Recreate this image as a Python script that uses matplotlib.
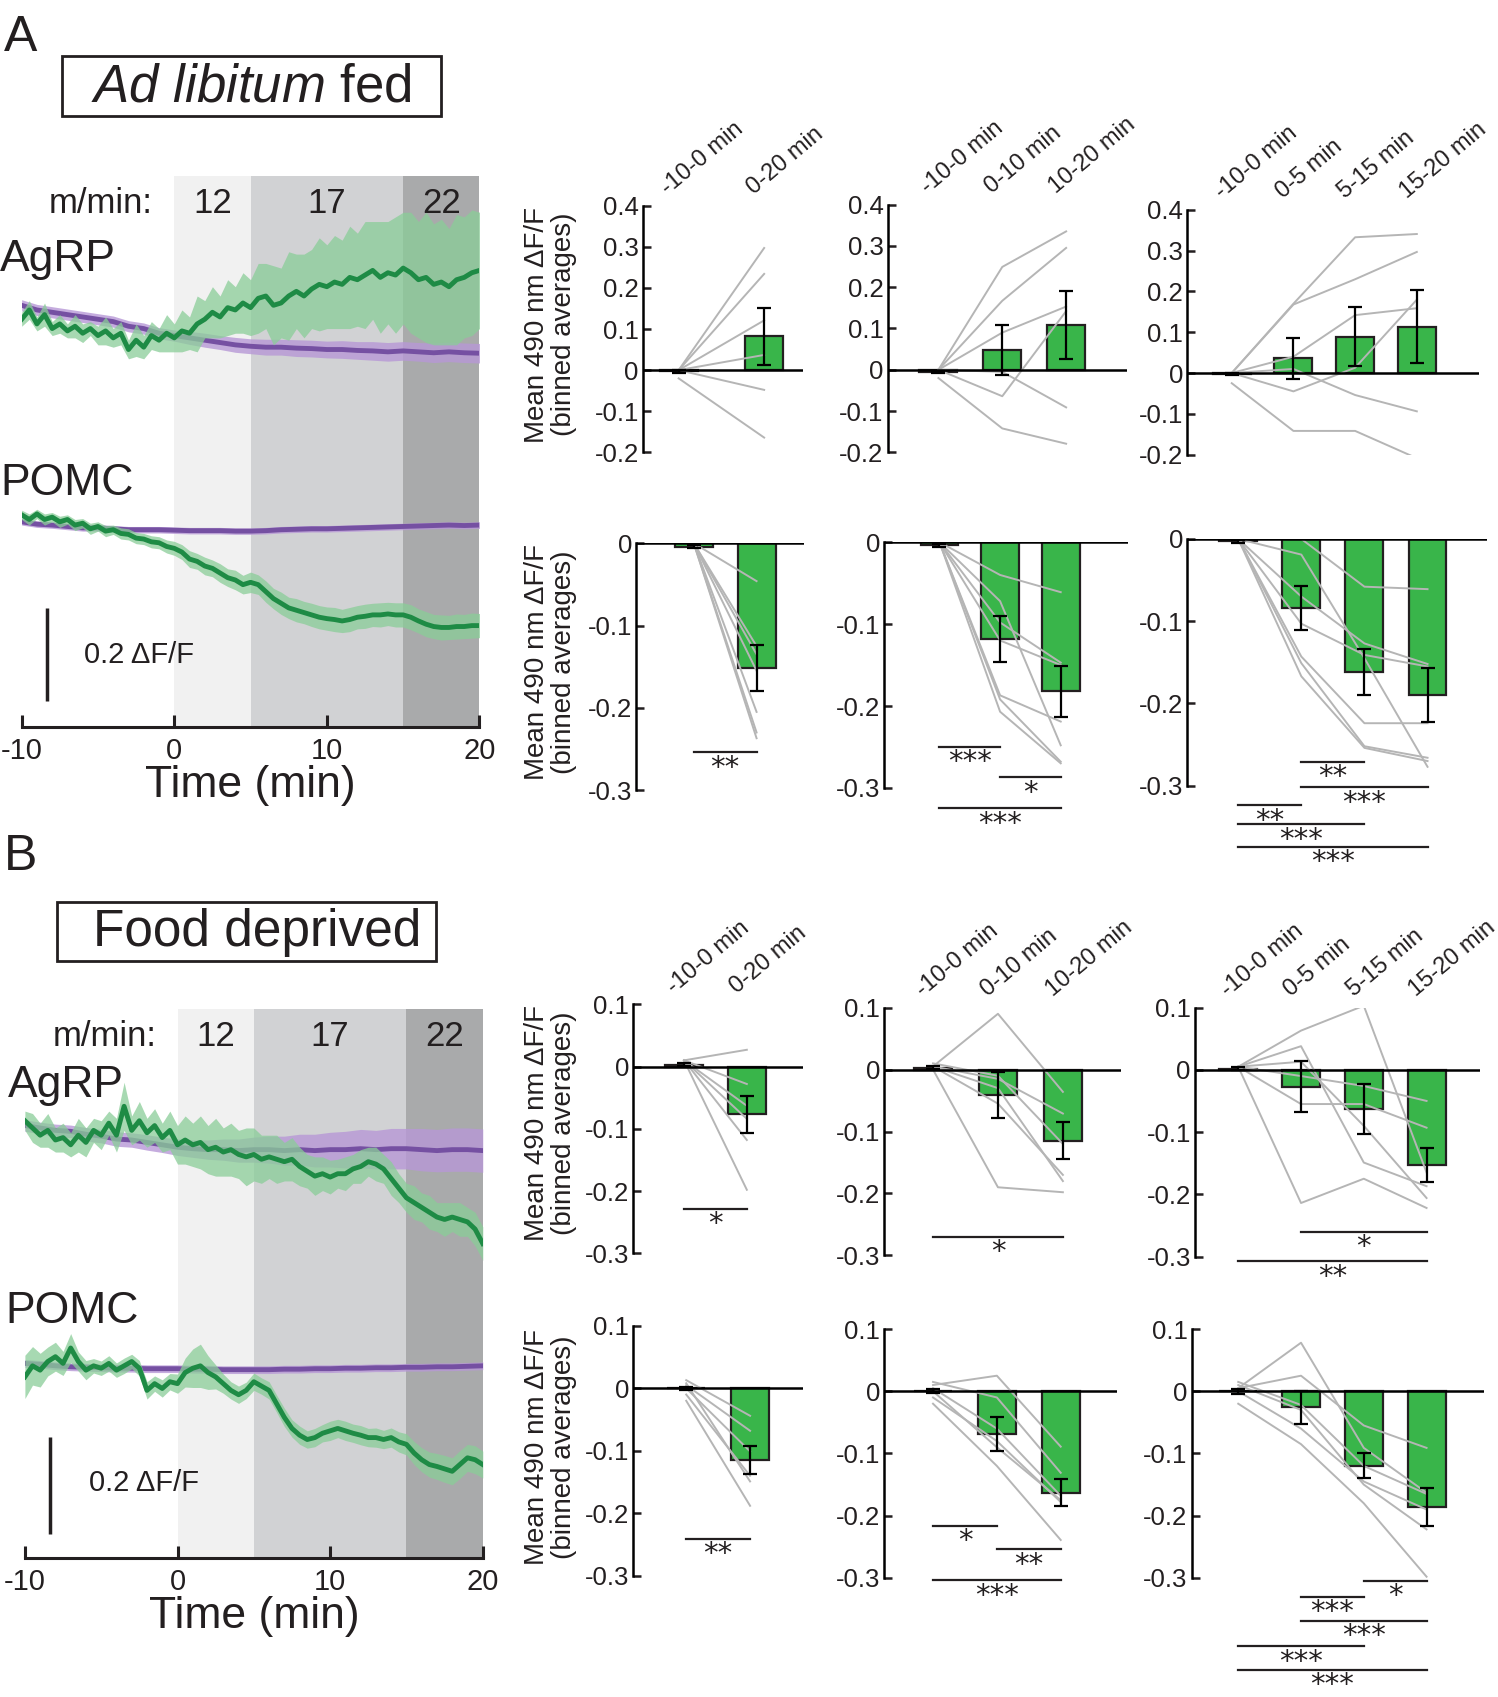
import numpy as np
import matplotlib
matplotlib.use('Agg')
import matplotlib.pyplot as plt
from matplotlib.patches import Rectangle

plt.rcParams['font.family'] = ['Liberation Sans', 'DejaVu Sans']
plt.rcParams['mathtext.fontset'] = 'custom'
plt.rcParams['mathtext.rm'] = 'Liberation Sans'
plt.rcParams['mathtext.it'] = 'Liberation Sans:italic'

# ---------------- photometry traces (dF/F, relative to start) ----------------
t_fine = np.arange(-10, 20.01, 0.5)     # green 490 nm traces
t_coarse = np.arange(-10, 20.01, 1.0)   # purple control traces
epoch_edges = [0, 5, 15, 20]
speeds = ['12', '17', '22']
time_ticks = [-10, 0, 10, 20]

# A: ad libitum fed
a_agrp_green = [0.0, 0.02, -0.01, 0.01, -0.02, -0.01, -0.025, -0.015, -0.03, -0.02,
                -0.035, -0.025, -0.04, -0.03, -0.065, -0.045, -0.06, -0.035, -0.045, -0.03,
                -0.04, -0.025, -0.03, -0.01, 0.0, 0.015, 0.005, 0.025, 0.02, 0.035,
                0.025, 0.045, 0.05, 0.03, 0.035, 0.05, 0.06, 0.05, 0.065, 0.075,
                0.07, 0.08, 0.075, 0.09, 0.085, 0.095, 0.105, 0.09, 0.1, 0.095,
                0.11, 0.1, 0.085, 0.09, 0.075, 0.08, 0.07, 0.085, 0.09, 0.1,
                0.105]
a_agrp_green_sem = [0.015, 0.02, 0.015, 0.025, 0.015, 0.02, 0.015, 0.025, 0.02, 0.015,
                    0.02, 0.03, 0.02, 0.025, 0.02, 0.035, 0.025, 0.03, 0.025, 0.04,
                    0.03, 0.045, 0.035, 0.06, 0.04, 0.055, 0.045, 0.06, 0.05, 0.065,
                    0.06, 0.075, 0.07, 0.085, 0.075, 0.095, 0.08, 0.09, 0.085, 0.1,
                    0.09, 0.1, 0.095, 0.11, 0.1, 0.115, 0.105, 0.12, 0.11, 0.125,
                    0.12, 0.13, 0.125, 0.14, 0.13, 0.135, 0.125, 0.14, 0.13, 0.135,
                    0.125]
a_agrp_purple = [0.03, 0.02, 0.015, 0.01, 0.005, 0.0, -0.005, -0.015, -0.02, -0.03,
                 -0.035, -0.04, -0.045, -0.05, -0.055, -0.058, -0.06, -0.06, -0.062, -0.063,
                 -0.065, -0.065, -0.067, -0.068, -0.07, -0.068, -0.07, -0.072, -0.07, -0.072,
                 -0.073]
a_agrp_purple_sem = [0.012] * 11 + [0.014, 0.015, 0.015, 0.016, 0.016, 0.017, 0.017, 0.018, 0.018, 0.018,
                                    0.019, 0.019, 0.02, 0.02, 0.02, 0.02, 0.021, 0.021, 0.021, 0.021]
a_pomc_green = [0.01, 0.0, 0.012, 0.0, 0.005, -0.005, 0.0, -0.012, -0.008, -0.02,
                -0.015, -0.025, -0.022, -0.03, -0.032, -0.04, -0.042, -0.048, -0.05, -0.058,
                -0.062, -0.07, -0.085, -0.09, -0.1, -0.105, -0.115, -0.125, -0.13, -0.14,
                -0.135, -0.14, -0.155, -0.17, -0.18, -0.19, -0.195, -0.2, -0.205, -0.21,
                -0.213, -0.215, -0.218, -0.215, -0.21, -0.208, -0.205, -0.205, -0.203, -0.205,
                -0.205, -0.21, -0.218, -0.225, -0.23, -0.232, -0.232, -0.23, -0.23, -0.228,
                -0.228]
a_pomc_green_sem = [0.01, 0.012, 0.01, 0.012, 0.01, 0.012, 0.01, 0.012, 0.01, 0.012,
                    0.01, 0.012, 0.01, 0.012, 0.012, 0.012, 0.012, 0.013, 0.013, 0.014,
                    0.015, 0.016, 0.018, 0.017, 0.019, 0.018, 0.02, 0.019, 0.021, 0.02,
                    0.022, 0.021, 0.023, 0.022, 0.024, 0.023, 0.025, 0.024, 0.025, 0.025,
                    0.025, 0.026, 0.025, 0.026, 0.025, 0.026, 0.025, 0.026, 0.025, 0.026,
                    0.026, 0.027, 0.026, 0.027, 0.026, 0.027, 0.026, 0.027, 0.026, 0.027,
                    0.026]
a_pomc_purple = [-0.005, -0.01, -0.012, -0.015, -0.018, -0.018, -0.02, -0.022, -0.022, -0.022,
                 -0.023, -0.024, -0.024, -0.024, -0.025, -0.025, -0.024, -0.022, -0.021, -0.02,
                 -0.02, -0.019, -0.018, -0.017, -0.016, -0.015, -0.014, -0.013, -0.012, -0.013,
                 -0.012]
a_pomc_purple_sem = [0.007] * 31

# B: food deprived
b_agrp_green = [0.01, -0.005, -0.02, -0.01, -0.03, -0.025, -0.04, -0.02, -0.035, -0.01,
                -0.02, 0.005, -0.02, 0.04, -0.01, 0.01, -0.015, 0.0, -0.025, -0.01,
                -0.04, -0.03, -0.04, -0.035, -0.05, -0.045, -0.055, -0.05, -0.06, -0.065,
                -0.06, -0.07, -0.065, -0.07, -0.075, -0.07, -0.085, -0.095, -0.105, -0.1,
                -0.107, -0.1, -0.1, -0.09, -0.085, -0.075, -0.08, -0.09, -0.11, -0.13,
                -0.15, -0.16, -0.17, -0.18, -0.19, -0.195, -0.19, -0.195, -0.2, -0.215,
                -0.245]
b_agrp_green_sem = [0.02, 0.03, 0.025, 0.035, 0.025, 0.03, 0.025, 0.035, 0.03, 0.025,
                    0.03, 0.025, 0.035, 0.05, 0.03, 0.04, 0.03, 0.035, 0.03, 0.04,
                    0.04, 0.05, 0.045, 0.055, 0.05, 0.06, 0.05, 0.055, 0.05, 0.06,
                    0.055, 0.05, 0.045, 0.05, 0.04, 0.045, 0.04, 0.035, 0.04, 0.035,
                    0.035, 0.03, 0.035, 0.03, 0.035, 0.03, 0.035, 0.03, 0.035, 0.03,
                    0.03, 0.035, 0.03, 0.035, 0.03, 0.035, 0.03, 0.035, 0.03, 0.035,
                    0.035]
b_agrp_purple = [0.0, -0.005, -0.01, -0.012, -0.018, -0.022, -0.028, -0.03, -0.035, -0.04,
                 -0.045, -0.048, -0.05, -0.05, -0.052, -0.05, -0.05, -0.052, -0.05, -0.052,
                 -0.05, -0.05, -0.048, -0.05, -0.048, -0.048, -0.05, -0.052, -0.05, -0.05,
                 -0.052]
b_agrp_purple_sem = [0.012, 0.012, 0.013, 0.013, 0.014, 0.014, 0.015, 0.015, 0.016, 0.016,
                     0.017, 0.018, 0.02, 0.022, 0.024, 0.026, 0.028, 0.03, 0.032, 0.034,
                     0.036, 0.038, 0.04, 0.04, 0.042, 0.042, 0.044, 0.044, 0.045, 0.045,
                     0.045]
b_pomc_green = [-0.023, 0.0, -0.009, 0.009, 0.019, 0.005, 0.037, 0.009, -0.009, 0.0,
                -0.005, 0.005, -0.009, 0.0, 0.009, -0.005, -0.051, -0.037, -0.047, -0.033,
                -0.037, -0.014, -0.005, 0.0, -0.014, -0.023, -0.037, -0.051, -0.06, -0.051,
                -0.033, -0.042, -0.051, -0.079, -0.107, -0.13, -0.144, -0.153, -0.149, -0.14,
                -0.135, -0.13, -0.135, -0.14, -0.144, -0.149, -0.149, -0.153, -0.149, -0.158,
                -0.163, -0.181, -0.195, -0.205, -0.209, -0.214, -0.219, -0.205, -0.191, -0.195,
                -0.205]
b_pomc_green_sem = [0.045, 0.04, 0.035, 0.03, 0.03, 0.025, 0.03, 0.02, 0.02, 0.015,
                    0.015, 0.016, 0.015, 0.016, 0.015, 0.016, 0.018, 0.016, 0.018, 0.017,
                    0.02, 0.03, 0.04, 0.045, 0.035, 0.025, 0.02, 0.018, 0.018, 0.017,
                    0.018, 0.017, 0.018, 0.018, 0.019, 0.018, 0.019, 0.018, 0.019, 0.018,
                    0.02, 0.019, 0.02, 0.019, 0.02, 0.019, 0.02, 0.019, 0.02, 0.021,
                    0.022, 0.024, 0.025, 0.026, 0.027, 0.028, 0.028, 0.029, 0.028, 0.029,
                    0.028]
b_pomc_purple = [0.005, 0.003, 0.0, -0.002, -0.003, -0.004, -0.005, -0.005, -0.006, -0.006,
                 -0.006, -0.007, -0.007, -0.008, -0.008, -0.008, -0.008, -0.007, -0.007, -0.006,
                 -0.006, -0.005, -0.005, -0.004, -0.004, -0.003, -0.003, -0.002, -0.002, -0.001,
                 0.0]
b_pomc_purple_sem = [0.008] * 31

# ---------------- binned averages ----------------
labels2 = ['-10-0 min', '0-20 min']
labels3 = ['-10-0 min', '0-10 min', '10-20 min']
labels4 = ['-10-0 min', '0-5 min', '5-15 min', '15-20 min']

a_agrp2_mean = [-0.003, 0.082]
a_agrp2_sem = [0.003, 0.07]
a_agrp2_mice = [[0, 0.297], [0, 0.234], [0, 0.121], [0, 0.037], [0, -0.048], [-0.02, -0.164]]

a_agrp3_mean = [-0.005, 0.048, 0.108]
a_agrp3_sem = [0.003, 0.06, 0.083]
a_agrp3_mice = [[0, 0.249, 0.335], [0, 0.167, 0.295], [0, 0.09, 0.153], [0, -0.064, 0.142],
                [0, -0.005, -0.091], [-0.02, -0.142, -0.179]]

a_agrp4_mean = [-0.003, 0.036, 0.089, 0.114]
a_agrp4_sem = [0.003, 0.05, 0.072, 0.089]
a_agrp4_mice = [[0, 0.17, 0.333, 0.341], [0, 0.168, 0.23, 0.297], [0, 0.04, 0.142, 0.159],
                [0, -0.045, 0.013, 0.18], [0, 0.01, -0.054, -0.094], [-0.025, -0.142, -0.142, -0.209]]

a_pomc2_mean = [-0.004, -0.152]
a_pomc2_sem = [0.002, 0.028]
a_pomc2_mice = [[0, -0.046], [0, -0.125], [0, -0.135], [0, -0.155], [0, -0.205], [0, -0.23], [0, -0.237]]
a_pomc2_sig = [(0, 1, -0.254, '**')]

a_pomc3_mean = [-0.004, -0.118, -0.182]
a_pomc3_sem = [0.002, 0.028, 0.031]
a_pomc3_mice = [[0, -0.04, -0.061], [0, -0.072, -0.248], [0, -0.098, -0.147], [0, -0.12, -0.15],
                [0, -0.187, -0.219], [0, -0.192, -0.268], [0, -0.207, -0.27]]
a_pomc3_sig = [(0, 1, -0.25, '***'), (1, 2, -0.287, '*'), (0, 2, -0.325, '***')]

a_pomc4_mean = [-0.003, -0.084, -0.162, -0.19]
a_pomc4_sem = [0.002, 0.027, 0.028, 0.033]
a_pomc4_mice = [[0, 0.0, -0.058, -0.061], [0, -0.019, -0.145, -0.277], [0, -0.07, -0.127, -0.152],
                [0, -0.103, -0.141, -0.155], [0, -0.143, -0.224, -0.224], [0, -0.151, -0.252, -0.266],
                [0, -0.167, -0.254, -0.27]]
a_pomc4_sig = [(1, 2, -0.271, '**'), (1, 3, -0.302, '***'), (0, 1, -0.324, '**'),
               (0, 2, -0.347, '***'), (0, 3, -0.374, '***')]

b_agrp2_mean = [0.003, -0.077]
b_agrp2_sem = [0.002, 0.03]
b_agrp2_mice = [[0.01, 0.027], [0.01, -0.028], [0.01, -0.063], [0.01, -0.084], [0.01, -0.118], [0.01, -0.198]]
b_agrp2_sig = [(0, 1, -0.229, '*')]

b_agrp3_mean = [0.003, -0.041, -0.115]
b_agrp3_sem = [0.002, 0.037, 0.03]
b_agrp3_mice = [[0.005, 0.09, -0.036], [0.005, -0.015, -0.071], [0.0, -0.19, -0.198],
                [0.005, -0.055, -0.17], [0.005, -0.03, -0.18], [0.01, -0.01, -0.12]]
b_agrp3_sig = [(0, 2, -0.27, '*')]

b_agrp4_mean = [0.002, -0.027, -0.063, -0.153]
b_agrp4_sem = [0.002, 0.041, 0.04, 0.028]
b_agrp4_mice = [[0.005, 0.063, 0.103, -0.165], [0.005, 0.038, -0.149, -0.187], [0.005, 0.013, -0.09, -0.206],
                [0.005, -0.01, -0.026, -0.05], [0.005, -0.055, -0.055, -0.093], [0.005, -0.214, -0.175, -0.222]]
b_agrp4_sig = [(1, 3, -0.26, '*'), (0, 3, -0.308, '**')]

b_pomc2_mean = [0.0, -0.115]
b_pomc2_sem = [0.002, 0.022]
b_pomc2_mice = [[0.013, -0.044], [0.005, -0.068], [0.0, -0.101], [-0.01, -0.14], [-0.02, -0.188], [0.008, -0.149]]
b_pomc2_sig = [(0, 1, -0.241, '**')]

b_pomc3_mean = [0.0, -0.069, -0.163]
b_pomc3_sem = [0.003, 0.027, 0.022]
b_pomc3_mice = [[0.01, 0.025, -0.089], [0.015, -0.01, -0.131], [0.005, -0.06, -0.168],
                [-0.01, -0.08, -0.178], [-0.02, -0.12, -0.239], [0.0, -0.09, -0.175]]
b_pomc3_sig = [(0, 1, -0.216, '*'), (1, 2, -0.254, '**'), (0, 2, -0.304, '***')]

b_pomc4_mean = [0.0, -0.026, -0.12, -0.186]
b_pomc4_sem = [0.004, 0.027, 0.02, 0.03]
b_pomc4_mice = [[0.005, 0.078, -0.091, -0.163], [0.005, 0.025, -0.055, -0.091], [0.015, -0.022, -0.12, -0.165],
                [0.0, -0.06, -0.145, -0.19], [-0.02, -0.085, -0.18, -0.298], [0.01, -0.03, -0.15, -0.222]]
b_pomc4_sig = [(2, 3, -0.305, '*'), (1, 2, -0.33, '***'), (1, 3, -0.369, '***'),
               (0, 2, -0.41, '***'), (0, 3, -0.448, '***')]

# colours
GREEN_LINE = '#1E8B45'
GREEN_BAND = '#8ACD98'
PURPLE = '#7550A2'
PURPLE_BAND = '#B798D6'
BAR_GREEN = '#39B54A'
GREY = '#B5B5B5'
DARK = '#231F20'
SHADES = ['#F1F1F1', '#D1D2D4', '#A9AAAB']

fig = plt.figure(figsize=(14.98, 16.97), dpi=100)
W, H = 1384, 1568  # layout grid


def box(l, t, r, b):
    return [l / W, 1 - b / H, (r - l) / W, (b - t) / H]


def ftext(x, y, s, **kw):
    return fig.text(x / W, 1 - y / H, s, **kw)


def trace_panel(l, t, r, b, ppu, rows, sb_x, sb_bot):
    ax = fig.add_axes(box(l, t, r, b))
    ax.set_xlim(-10, 20)
    ax.set_ylim(0, (b - t) / ppu)
    for i in range(3):
        ax.axvspan(epoch_edges[i], epoch_edges[i + 1], color=SHADES[i], lw=0, zorder=0)
    for i, s in enumerate(speeds):
        ax.text((epoch_edges[i] + epoch_edges[i + 1]) / 2, 0.95, s, transform=ax.get_xaxis_transform(),
                ha='center', va='center', fontsize=25, color=DARK)
    ax.text(-4.8, 0.95, 'm/min:', transform=ax.get_xaxis_transform(),
            ha='center', va='center', fontsize=25, color=DARK)
    for green, gsem, purple, psem, ylev in rows:
        y0 = (b - ylev) / ppu
        g = np.array(green) + y0
        gs = np.array(gsem)
        p = np.array(purple) + y0
        ps = np.array(psem)
        ax.fill_between(t_coarse, p - ps, p + ps, color=PURPLE_BAND, lw=0, alpha=0.8, zorder=1)
        ax.plot(t_coarse, p, color=PURPLE, lw=3.5, zorder=2)
        ax.fill_between(t_fine, g - gs, g + gs, color=GREEN_BAND, lw=0, alpha=0.75, zorder=3)
        ax.plot(t_fine, g, color=GREEN_LINE, lw=3.5, zorder=4)
    xs = -10 + (sb_x - l) / ((r - l) / 30)
    ys = (b - sb_bot) / ppu
    ax.plot([xs, xs], [ys, ys + 0.2], color=DARK, lw=2.5, solid_capstyle='butt', clip_on=False)
    for sp in ['top', 'right', 'left']:
        ax.spines[sp].set_visible(False)
    ax.spines['bottom'].set_linewidth(2.2)
    ax.spines['bottom'].set_color(DARK)
    ax.set_yticks([])
    ax.set_xticks(time_ticks)
    ax.set_xticklabels([str(v) for v in time_ticks])
    ax.tick_params(axis='x', direction='in', length=9, width=2.2, labelsize=21, pad=7, colors=DARK)
    ax.set_xlabel('Time (min)', fontsize=32, labelpad=0, color=DARK)
    return ax


def bar_panel(pos, c0, d, ylim, yticks, means, sems, mice, labels=None, sig=()):
    l, t, r, b = pos
    ax = fig.add_axes(box(l, t, r, b))
    x = np.arange(len(means))
    ax.set_xlim((l - c0) / d, (r - c0) / d)
    ax.set_ylim(*ylim)
    ax.bar(x, means, width=35 / d, color=BAR_GREEN, edgecolor=DARK, lw=1.6, zorder=2)
    for m in mice:
        ax.plot(x, m, color=GREY, lw=1.4, zorder=3)
    ax.errorbar(x, means, yerr=sems, fmt='none', ecolor='k', elinewidth=1.6,
                capsize=5, capthick=1.6, zorder=4)
    ax.axhline(0, color='k', lw=1.8, zorder=5)
    for sp in ['top', 'right', 'bottom']:
        ax.spines[sp].set_visible(False)
    ax.spines['left'].set_linewidth(1.8)
    ax.set_xticks([])
    ax.set_yticks(yticks)
    ax.set_yticklabels([f'{v:g}' for v in yticks])
    ax.tick_params(axis='y', direction='in', length=6, width=1.8, labelsize=18.5, pad=3, colors=DARK)
    if labels:
        for i, lab in enumerate(labels):
            ax.annotate(lab, xy=(i, ylim[1]), xytext=(-5, 5), textcoords='offset points',
                        rotation=40, rotation_mode='anchor', ha='left', va='bottom',
                        fontsize=17, color=DARK, annotation_clip=False)
    for i, j, yv, s in sig:
        ax.plot([i, j], [yv, yv], color=DARK, lw=1.6, clip_on=False)
        ax.annotate(s, xy=((i + j) / 2, yv), xytext=(0, -1), textcoords='offset points',
                    ha='center', va='top', fontsize=21, family='DejaVu Sans',
                    color=DARK, annotation_clip=False)
    return ax


ylabel = 'Mean 490 nm \u0394F/F\n(binned averages)'

# ---------------- panel A ----------------
ftext(19, 35, 'A', fontsize=36, ha='center', va='center', color=DARK)
fig.add_artist(Rectangle((57 / W, 1 - 107 / H), 350 / W, 55 / H, transform=fig.transFigure,
                         fill=False, lw=2, ec=DARK))
ftext(232, 81, r'$\mathit{Ad\ libitum}$ fed', fontsize=38, ha='center', va='center', color=DARK)

trace_panel(20, 163, 443, 672, 430,
            [(a_agrp_green, a_agrp_green_sem, a_agrp_purple, a_agrp_purple_sem, 295),
             (a_pomc_green, a_pomc_green_sem, a_pomc_purple, a_pomc_purple_sem, 480)],
            43, 648)
ftext(0, 240, 'AgRP', fontsize=32, ha='left', va='center', color=DARK)
ftext(0, 447, 'POMC', fontsize=32, ha='left', va='center', color=DARK)
ftext(78, 605, '0.2 \u0394F/F', fontsize=21, ha='left', va='center', color=DARK)

yt_top = [-0.2, -0.1, 0, 0.1, 0.2, 0.3, 0.4]
yt_neg = [-0.3, -0.2, -0.1, 0]
yt_b = [-0.3, -0.2, -0.1, 0, 0.1]

bar_panel((594, 190, 742, 418), 627, 79, (-0.2, 0.4), yt_top, a_agrp2_mean, a_agrp2_sem, a_agrp2_mice, labels2)
bar_panel((820, 189, 1041, 418), 867, 59, (-0.2, 0.4), yt_top, a_agrp3_mean, a_agrp3_sem, a_agrp3_mice, labels3)
bar_panel((1097, 194, 1366, 420), 1138, 57, (-0.2, 0.4), yt_top, a_agrp4_mean, a_agrp4_sem, a_agrp4_mice, labels4)
bar_panel((588, 502, 743, 730), 641, 58, (-0.3, 0), yt_neg, a_pomc2_mean, a_pomc2_sem, a_pomc2_mice, sig=a_pomc2_sig)
bar_panel((817, 501, 1042, 728), 868, 56, (-0.3, 0), yt_neg, a_pomc3_mean, a_pomc3_sem, a_pomc3_mice, sig=a_pomc3_sig)
bar_panel((1097, 498, 1374, 726), 1144, 58.3, (-0.3, 0), yt_neg, a_pomc4_mean, a_pomc4_sem, a_pomc4_mice, sig=a_pomc4_sig)
ftext(509, 300, ylabel, rotation=90, ha='center', va='center', fontsize=20, multialignment='center',
      linespacing=1.05, color=DARK)
ftext(509, 612, ylabel, rotation=90, ha='center', va='center', fontsize=20, multialignment='center',
      linespacing=1.05, color=DARK)

# ---------------- panel B ----------------
ftext(19, 792, 'B', fontsize=36, ha='center', va='center', color=DARK)
fig.add_artist(Rectangle((53 / W, 1 - 888 / H), 350 / W, 55 / H, transform=fig.transFigure,
                         fill=False, lw=2, ec=DARK))
ftext(238, 862, 'Food deprived', fontsize=37, ha='center', va='center', color=DARK)

trace_panel(23, 932, 446, 1440, 445,
            [(b_agrp_green, b_agrp_green_sem, b_agrp_purple, b_agrp_purple_sem, 1040),
             (b_pomc_green, b_pomc_green_sem, b_pomc_purple, b_pomc_purple_sem, 1262)],
            46, 1417)
ftext(7, 1003, 'AgRP', fontsize=32, ha='left', va='center', color=DARK)
ftext(5, 1212, 'POMC', fontsize=32, ha='left', va='center', color=DARK)
ftext(82, 1370, '0.2 \u0394F/F', fontsize=21, ha='left', va='center', color=DARK)

bar_panel((585, 928, 742, 1158), 632, 58, (-0.3, 0.1), yt_b, b_agrp2_mean, b_agrp2_sem, b_agrp2_mice, labels2, b_agrp2_sig)
bar_panel((817, 931, 1036, 1160), 862, 60, (-0.3, 0.1), yt_b, b_agrp3_mean, b_agrp3_sem, b_agrp3_mice, labels3, b_agrp3_sig)
bar_panel((1104, 931, 1367, 1161), 1144, 58, (-0.3, 0.1), yt_b, b_agrp4_mean, b_agrp4_sem, b_agrp4_mice, labels4, b_agrp4_sig)
bar_panel((585, 1225, 742, 1456), 634, 59, (-0.3, 0.1), yt_b, b_pomc2_mean, b_pomc2_sem, b_pomc2_mice, sig=b_pomc2_sig)
bar_panel((817, 1228, 1032, 1458), 862, 59, (-0.3, 0.1), yt_b, b_pomc3_mean, b_pomc3_sem, b_pomc3_mice, sig=b_pomc3_sig)
bar_panel((1101, 1228, 1371, 1458), 1144, 58, (-0.3, 0.1), yt_b, b_pomc4_mean, b_pomc4_sem, b_pomc4_mice, sig=b_pomc4_sig)
ftext(509, 1038, ylabel, rotation=90, ha='center', va='center', fontsize=20, multialignment='center',
      linespacing=1.05, color=DARK)
ftext(509, 1337, ylabel, rotation=90, ha='center', va='center', fontsize=20, multialignment='center',
      linespacing=1.05, color=DARK)

fig.savefig('out.png', dpi=100)
